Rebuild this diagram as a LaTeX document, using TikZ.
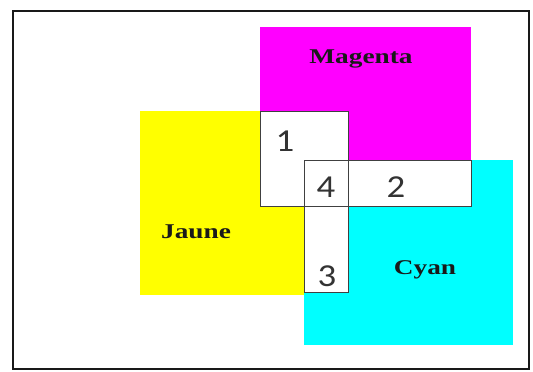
\documentclass[tikz,border=0pt]{standalone}
\usepackage{fontspec}
\setmainfont{Liberation Serif}
\newfontfamily\numfont{Carlito}
\usepackage{tikz}
\usetikzlibrary{positioning}
\definecolor{magRGB}{RGB}{255,0,255}
\definecolor{yelRGB}{RGB}{255,255,0}
\definecolor{cyaRGB}{RGB}{0,255,255}

\begin{document}
\begin{tikzpicture}[
  x=1pt, y=1pt,
  % Colour squares
  square/.style  = {draw=none},
  zone/.style    = {fill=white},
  edge/.style    = {draw=black!75, line width=0.9pt},
  % Text styles
  colname/.style = {font=\bfseries\fontsize{21}{21}\selectfont, text=black!90,
                    xscale=1.3, transform shape, inner sep=0pt, anchor=base},
  num/.style     = {font=\numfont\fontsize{32}{32}\selectfont, text=black!80,
                    xscale=1.15, transform shape, inner sep=0pt, anchor=base}
]
\useasboundingbox (0,0) rectangle (533,372);

% frame
\draw[line width=1.8pt, black!90] (13,3) rectangle (529,361);

% =========================== PRIMARIES ===========================
\fill[square, magRGB] (260,212) rectangle (471,345);
\fill[square, yelRGB] (140,77)  rectangle (305,261);
\fill[square, cyaRGB] (304,27)  rectangle (513,212);

% =========================== OVERLAPS ===========================
\fill[zone] (260,166) rectangle (348,261);
\fill[zone] (304,166) rectangle (471,212);
\fill[zone] (304,80)  rectangle (348,212);

\draw[edge] (260,166) rectangle (348,261);
\draw[edge] (304,166) rectangle (471,212);
\draw[edge] (304,80)  rectangle (348,212);

% =========================== LABELS ===========================
\node[colname] (mag) at (361,308) {Magenta};
\node[colname] (jau) at (196,133) {Jaune};
\node[colname] (cya) at (425,97)  {Cyan};

\node[num] (n1) at (285,220) {1};
\node[num] (n4) at (326,174) {4};
\node[num] (n2) at (396,174) {2};
\node[num] (n3) at (327,85)  {3};

\end{tikzpicture}
\end{document}
